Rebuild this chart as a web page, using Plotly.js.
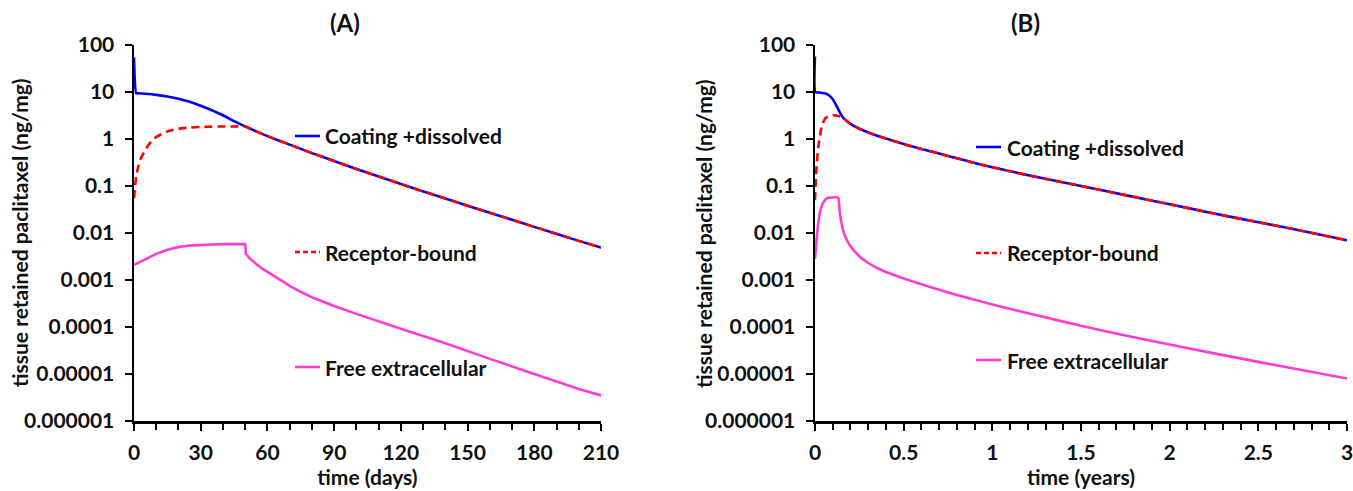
<!DOCTYPE html>
<html><head><meta charset="utf-8">
<script src="https://cdn.plot.ly/plotly-3.0.1.min.js"></script>
<style>html,body{margin:0;padding:0;background:#fff}#chart{width:1353px;height:491px}</style>
</head><body><div id="chart"></div>
<script>
// ---- labels ----
const yTickVals = [1e-6, 1e-5, 1e-4, 1e-3, 1e-2, 1e-1, 1, 10, 100];
const yTickText = ["0.000001", "0.00001", "0.0001", "0.001", "0.01", "0.1", "1", "10", "100"];
const daysTicks = [0, 30, 60, 90, 120, 150, 180, 210];
const yearsTicks = [0, 0.5, 1, 1.5, 2, 2.5, 3];
const yearsTickText = ["0", "0.5", "1", "1.5", "2", "2.5", "3"];
const seriesNames = ["Coating +dissolved", "Receptor-bound", "Free extracellular"];
const panelTitles = ["(A)", "(B)"];
const xTitles = ["time (days)", "time (years)"];
const yTitle = "tissue retained paclitaxel (ng/mg)";

// ---- Panel A (days) ----
const daysCoating = [0, 1, 2, 5, 10, 15, 20, 25, 30, 35, 40, 45, 50, 55, 60, 70, 80, 90, 100, 110, 120, 140, 160, 180, 200, 210];
const coatingA = [55, 9.4, 9.4, 9.2, 8.7, 8.0, 7.2, 6.2, 5.1, 4.1, 3.2, 2.4, 1.85, 1.45, 1.15, 0.76, 0.5, 0.34, 0.23, 0.16, 0.11, 0.054, 0.027, 0.0135, 0.0068, 0.0049];
const daysReceptor = [0, 1, 2, 3, 5, 7, 10, 15, 20, 25, 30, 35, 40, 45, 50, 55, 60, 70, 80, 90, 100, 110, 120, 140, 160, 180, 200, 210];
const receptorA = [0.055, 0.16, 0.27, 0.38, 0.58, 0.8, 1.1, 1.45, 1.65, 1.75, 1.8, 1.83, 1.85, 1.85, 1.85, 1.45, 1.15, 0.76, 0.5, 0.34, 0.23, 0.16, 0.11, 0.054, 0.027, 0.0135, 0.0068, 0.0049];
const daysFree = [0, 5, 10, 15, 20, 25, 30, 35, 40, 45, 50, 50.3, 52, 55, 58, 62, 66, 70, 75, 80, 90, 100, 120, 140, 160, 180, 200, 210];
const freeA = [0.0021, 0.0028, 0.0036, 0.0044, 0.005, 0.0054, 0.0056, 0.0057, 0.0058, 0.0058, 0.0058, 0.0036, 0.0029, 0.0022, 0.0017, 0.0013, 0.00098, 0.00075, 0.00056, 0.00043, 0.00028, 0.00019, 0.000092, 0.000045, 0.000021, 0.00001, 0.0000048, 0.0000035];

// ---- Panel B (years) ----
const yearsCoating = [0, 0.002, 0.03, 0.06, 0.08, 0.1, 0.12, 0.14, 0.16, 0.2, 0.25, 0.3, 0.4, 0.5, 0.6, 0.7, 0.8, 0.9, 1.0, 1.25, 1.5, 1.75, 2.0, 2.25, 2.5, 2.75, 3.0];
const coatingB = [57, 10, 9.7, 9.3, 8.4, 7.0, 5.2, 3.7, 2.8, 2.1, 1.65, 1.38, 1.02, 0.78, 0.61, 0.49, 0.39, 0.31, 0.25, 0.155, 0.1, 0.064, 0.041, 0.026, 0.017, 0.011, 0.007];
const yearsReceptor = [0, 0.005, 0.01, 0.02, 0.04, 0.06, 0.08, 0.1, 0.12, 0.14, 0.16, 0.2, 0.25, 0.3, 0.4, 0.5, 0.6, 0.7, 0.8, 0.9, 1.0, 1.25, 1.5, 1.75, 2.0, 2.25, 2.5, 2.75, 3.0];
const receptorB = [0.05, 0.15, 0.3, 0.75, 2.0, 2.8, 3.1, 3.2, 3.15, 3.0, 2.8, 2.1, 1.65, 1.38, 1.02, 0.78, 0.61, 0.49, 0.39, 0.31, 0.25, 0.155, 0.1, 0.064, 0.041, 0.026, 0.017, 0.011, 0.007];
const yearsFree = [0, 0.01, 0.02, 0.03, 0.05, 0.07, 0.09, 0.13, 0.135, 0.14, 0.15, 0.17, 0.2, 0.25, 0.3, 0.35, 0.4, 0.5, 0.6, 0.7, 0.8, 0.9, 1.0, 1.25, 1.5, 1.75, 2.0, 2.25, 2.5, 2.75, 3.0];
const freeB = [0.0028, 0.008, 0.018, 0.03, 0.047, 0.055, 0.057, 0.057, 0.045, 0.027, 0.016, 0.0085, 0.0052, 0.0032, 0.0023, 0.0018, 0.00148, 0.00108, 0.00081, 0.00062, 0.00048, 0.00038, 0.0003, 0.000177, 0.000106, 0.000066, 0.0000424, 0.0000275, 0.0000181, 0.000012, 0.000008];

// ---- styling ----
const W = 1353, H = 491;
const px = x => x / W, py = y => 1 - y / H;
const FONT = 'Lato, "Open Sans", sans-serif';
const BLUE = '#0000FF', RED = '#FF0000', MAG = '#FF3CD2';
const f = (s) => ({family: FONT, size: s, color: '#111', weight: 700});

function line(x, y, color, dash, xa, ya, name, smooth) {
  return {x: x, y: y, type: 'scatter', mode: 'lines', name: name, xaxis: xa, yaxis: ya, cliponaxis: false,
    line: {color: color, width: 2.6, dash: dash || 'solid', shape: smooth ? 'spline' : 'linear', smoothing: 0.5},
    showlegend: false, hoverinfo: 'skip'};
}

const data = [
  line(daysCoating, coatingA, BLUE, 'solid', 'x', 'y', seriesNames[0], true),
  line(daysReceptor, receptorA, RED, '8px,5px', 'x', 'y', seriesNames[1], true),
  line(daysFree, freeA, MAG, 'solid', 'x', 'y', seriesNames[2], false),
  line(yearsCoating, coatingB, BLUE, 'solid', 'x2', 'y2', seriesNames[0], true),
  line(yearsReceptor, receptorB, RED, '8px,5px', 'x2', 'y2', seriesNames[1], true),
  line(yearsFree, freeB, MAG, 'solid', 'x2', 'y2', seriesNames[2], true)
];

const axCommon = {
  showline: true, linecolor: '#000', linewidth: 2.5, mirror: false, layer: 'below traces',
  ticks: 'outside', ticklen: 7, tickwidth: 2, tickcolor: '#000',
  showgrid: false, zeroline: false, tickfont: f(21), fixedrange: true,
  ticklabeloverflow: 'allow'
};
function xax(domain, range, tvals, ttext, minor, title, anchor) {
  return Object.assign({}, axCommon, {
    domain: domain, range: range, anchor: anchor,
    tickmode: 'array', tickvals: tvals, ticktext: ttext,
    ticklabelstandoff: 4,
    minor: {dtick: minor, tick0: 0, ticks: 'outside', ticklen: 6, tickwidth: 2, tickcolor: '#000', showgrid: false},
    title: {text: title, font: f(21), standoff: 2}
  });
}
function yax(anchor) {
  return Object.assign({}, axCommon, {
    type: 'log', range: [-6, 2], domain: [py(421), py(45)], anchor: anchor,
    tickmode: 'array', tickvals: yTickVals, ticktext: yTickText,
    ticklabelstandoff: 6
  });
}

const keyA = [295, 320, 323], keyB = [976, 1001, 1005];
const keyYA = [136, 252, 367], keyYB = [147, 253, 360];
const colors = [BLUE, RED, MAG];
const shapes = [], annotations = [];
[[keyA, keyYA], [keyB, keyYB]].forEach(([k, ys]) => {
  ys.forEach((yy, i) => {
    shapes.push({type: 'line', xref: 'paper', yref: 'paper', x0: px(k[0]), x1: px(k[1]), y0: py(yy), y1: py(yy),
      line: {color: colors[i], width: 2.6, dash: i === 1 ? '5px,3px' : 'solid'}});
    annotations.push({xref: 'paper', yref: 'paper', x: px(k[2]), y: py(yy), xanchor: 'left', yanchor: 'middle',
      text: seriesNames[i], showarrow: false, font: f(21)});
  });
});
annotations.push({xref: 'paper', yref: 'paper', x: px(345), y: py(22), text: panelTitles[0], showarrow: false, font: f(24), xanchor: 'center', yanchor: 'middle'});
annotations.push({xref: 'paper', yref: 'paper', x: px(1025), y: py(22), text: panelTitles[1], showarrow: false, font: f(24), xanchor: 'center', yanchor: 'middle'});
annotations.push({xref: 'paper', yref: 'paper', x: px(19), y: py(233), text: yTitle, textangle: -90, showarrow: false, font: f(21), xanchor: 'center', yanchor: 'middle'});
annotations.push({xref: 'paper', yref: 'paper', x: px(703), y: py(233), text: yTitle, textangle: -90, showarrow: false, font: f(21), xanchor: 'center', yanchor: 'middle'});

const layout = {
  width: W, height: H, margin: {l: 0, r: 0, t: 0, b: 0},
  paper_bgcolor: '#fff', plot_bgcolor: '#fff', showlegend: false,
  font: f(21),
  xaxis: xax([px(134), px(601)], [0, 210], daysTicks, daysTicks.map(String), 10, xTitles[0], 'y'),
  yaxis: yax('x'),
  xaxis2: xax([px(815), px(1347)], [0, 3], yearsTicks, yearsTickText, 0.1, xTitles[1], 'y2'),
  yaxis2: yax('x2'),
  shapes: shapes, annotations: annotations
};

Plotly.newPlot('chart', data, layout, {displayModeBar: false, staticPlot: true});
</script></body></html>
